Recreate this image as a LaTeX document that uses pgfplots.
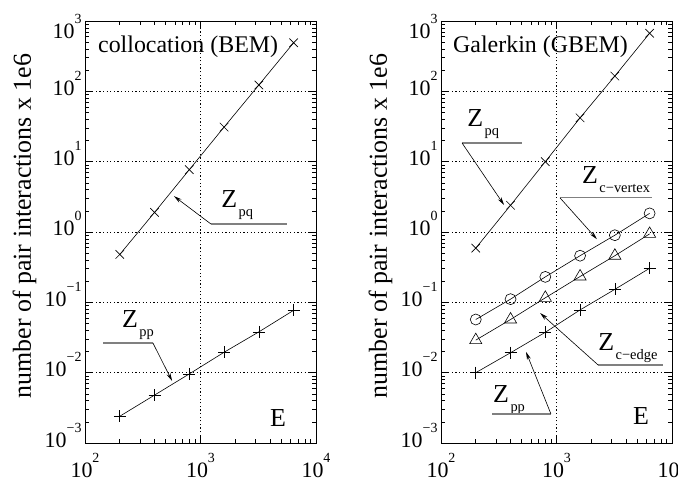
\documentclass[border=0pt]{standalone}
\usepackage{fontspec}
\setmainfont{Liberation Serif}
\usepackage{pgfplots}
\pgfplotsset{compat=1.18}
\usetikzlibrary{arrows.meta}

\newcommand{\tklab}[1]{10\raisebox{15bp}{\fontsize{14}{14}\selectfont #1}}
\newcommand{\zlab}[1]{Z\hspace{1.5bp}\raisebox{-9bp}{\fontsize{14.5}{14.5}\selectfont #1}}

\tikzset{
  txt/.style={anchor=base west, inner sep=0pt, font=\fontsize{26}{30}\selectfont},
  ttl/.style={anchor=base west, inner sep=0pt, font=\fontsize{24}{28}\selectfont},
  gl/.style={draw=gray, line width=1.2bp},
  ar/.style={draw=black, line width=0.6bp, -{Stealth[length=8bp,width=4bp]}},
}

\begin{document}
\begin{tikzpicture}
\begin{loglogaxis}[
    at={(85bp,41bp)},
    scale only axis, width=231bp, height=422bp, anchor=south west,
    xmin=100, xmax=10000, ymin=1e-3, ymax=1e3,
    xtick={100,1000,10000}, xticklabels={\tklab{2},\tklab{3},\tklab{4}},
    ytick={1e-3,1e-2,1e-1,1,10,100,1000},
    yticklabels={\tklab{−3},\tklab{−2},\tklab{−1},\tklab{0},\tklab{1},\tklab{2},\raisebox{-14bp}{\tklab{3}}},
    minor xtick={200,300,400,500,600,700,800,900,2000,3000,4000,5000,6000,7000,8000,9000},
    minor ytick={0.002,0.003,0.004,0.005,0.006,0.007,0.008,0.009,
                 0.02,0.03,0.04,0.05,0.06,0.07,0.08,0.09,
                 0.2,0.3,0.4,0.5,0.6,0.7,0.8,0.9,
                 2,3,4,5,6,7,8,9,20,30,40,50,60,70,80,90,
                 200,300,400,500,600,700,800,900},
    tick align=inside, major tick length=8bp, minor tick length=4.5bp,
    tick style={black, line width=0.6bp},
    axis line style={line width=0.8bp},
    grid=major, major grid style={black, line width=0.6bp, dash pattern=on 1.2bp off 2.4bp},
    ticklabel style={font=\fontsize{22}{26}\selectfont},
    xticklabel style={anchor=base, yshift=-34bp},
    yticklabel style={anchor=base east, yshift=-4bp},
    ylabel={number of pair interactions x 1e6},
    ylabel style={at={(axis description cs:-0.262,0.514)}, anchor=center, font=\fontsize{26}{30}\selectfont},
]
\addplot[black, line width=0.6bp, mark=x, mark size=6bp] coordinates {(200,0.48) (400,1.9) (800,7.7) (1600,31) (3200,123) (6400,490)};
\addplot[black, line width=0.6bp, mark=+, mark size=6bp] coordinates {(200,0.0024) (400,0.0048) (800,0.0096) (1600,0.0195) (3200,0.038) (6400,0.077)};
\node[ttl] at (rel axis cs:0.056,0.9265) {collocation (BEM)};
\node[txt] at (rel axis cs:0.801,0.040) {E};
\node[txt] at (rel axis cs:0.589,0.557) {\zlab{pq}};
\draw[gl] (rel axis cs:0.545,0.519) -- (rel axis cs:0.874,0.519);
\draw[ar] (rel axis cs:0.545,0.519) -- (rel axis cs:0.385,0.585);
\node[txt] at (rel axis cs:0.160,0.274) {\zlab{pp}};
\draw[gl] (rel axis cs:0.078,0.237) -- (rel axis cs:0.294,0.237);
\draw[ar] (rel axis cs:0.294,0.237) -- (rel axis cs:0.377,0.147);
\end{loglogaxis}
\begin{loglogaxis}[
    at={(441bp,41bp)},
    scale only axis, width=231bp, height=422bp, anchor=south west,
    xmin=100, xmax=10000, ymin=1e-3, ymax=1e3,
    xtick={100,1000,10000}, xticklabels={\tklab{2},\tklab{3},\tklab{4}},
    ytick={1e-3,1e-2,1e-1,1,10,100,1000},
    yticklabels={\tklab{−3},\tklab{−2},\tklab{−1},\tklab{0},\tklab{1},\tklab{2},\raisebox{-14bp}{\tklab{3}}},
    minor xtick={200,300,400,500,600,700,800,900,2000,3000,4000,5000,6000,7000,8000,9000},
    minor ytick={0.002,0.003,0.004,0.005,0.006,0.007,0.008,0.009,
                 0.02,0.03,0.04,0.05,0.06,0.07,0.08,0.09,
                 0.2,0.3,0.4,0.5,0.6,0.7,0.8,0.9,
                 2,3,4,5,6,7,8,9,20,30,40,50,60,70,80,90,
                 200,300,400,500,600,700,800,900},
    tick align=inside, major tick length=8bp, minor tick length=4.5bp,
    tick style={black, line width=0.6bp},
    axis line style={line width=0.8bp},
    grid=major, major grid style={black, line width=0.6bp, dash pattern=on 1.2bp off 2.4bp},
    ticklabel style={font=\fontsize{22}{26}\selectfont},
    xticklabel style={anchor=base, yshift=-34bp},
    yticklabel style={anchor=base east, yshift=-4bp},
    ylabel={number of pair interactions x 1e6},
    ylabel style={at={(axis description cs:-0.262,0.514)}, anchor=center, font=\fontsize{26}{30}\selectfont},
]
\addplot[black, line width=0.6bp, mark=x, mark size=6bp] coordinates {(200,0.59) (400,2.4) (800,10) (1600,42) (3200,165) (6400,670)};
\addplot[black, line width=0.6bp, mark=o, mark size=5.5bp] coordinates {(200,0.057) (400,0.111) (800,0.23) (1600,0.46) (3200,0.90) (6400,1.84)};
\addplot[black, line width=0.6bp, mark=triangle, mark size=7bp] coordinates {(200,0.029) (400,0.057) (800,0.116) (1600,0.233) (3200,0.46) (6400,0.94)};
\addplot[black, line width=0.6bp, mark=+, mark size=6bp] coordinates {(200,0.0100) (400,0.0192) (800,0.0375) (1600,0.078) (3200,0.153) (6400,0.305)};
\node[ttl] at (rel axis cs:0.052,0.9265) {Galerkin (GBEM)};
\node[txt] at (rel axis cs:0.831,0.043) {E};
\node[txt] at (rel axis cs:0.113,0.751) {\zlab{pq}};
\draw[gl] (rel axis cs:0.091,0.711) -- (rel axis cs:0.351,0.711);
\draw[ar] (rel axis cs:0.091,0.711) -- (rel axis cs:0.273,0.564);
\node[txt] at (rel axis cs:0.610,0.616) {\zlab{c−vertex}};
\draw[gl] (rel axis cs:0.515,0.581) -- (rel axis cs:0.913,0.581);
\draw[ar] (rel axis cs:0.515,0.581) -- (rel axis cs:0.675,0.483);
\node[txt] at (rel axis cs:0.680,0.220) {\zlab{c−edge}};
\draw[gl] (rel axis cs:0.680,0.185) -- (rel axis cs:0.961,0.185);
\draw[ar] (rel axis cs:0.680,0.185) -- (rel axis cs:0.429,0.308);
\node[txt] at (rel axis cs:0.225,0.095) {\zlab{pp}};
\draw[gl] (rel axis cs:0.221,0.0687) -- (rel axis cs:0.476,0.0687);
\draw[ar] (rel axis cs:0.476,0.0687) -- (rel axis cs:0.368,0.216);
\end{loglogaxis}
\pgfresetboundingbox
\path[use as bounding box] (0,0) rectangle (678bp,484bp);
\end{tikzpicture}
\end{document}
